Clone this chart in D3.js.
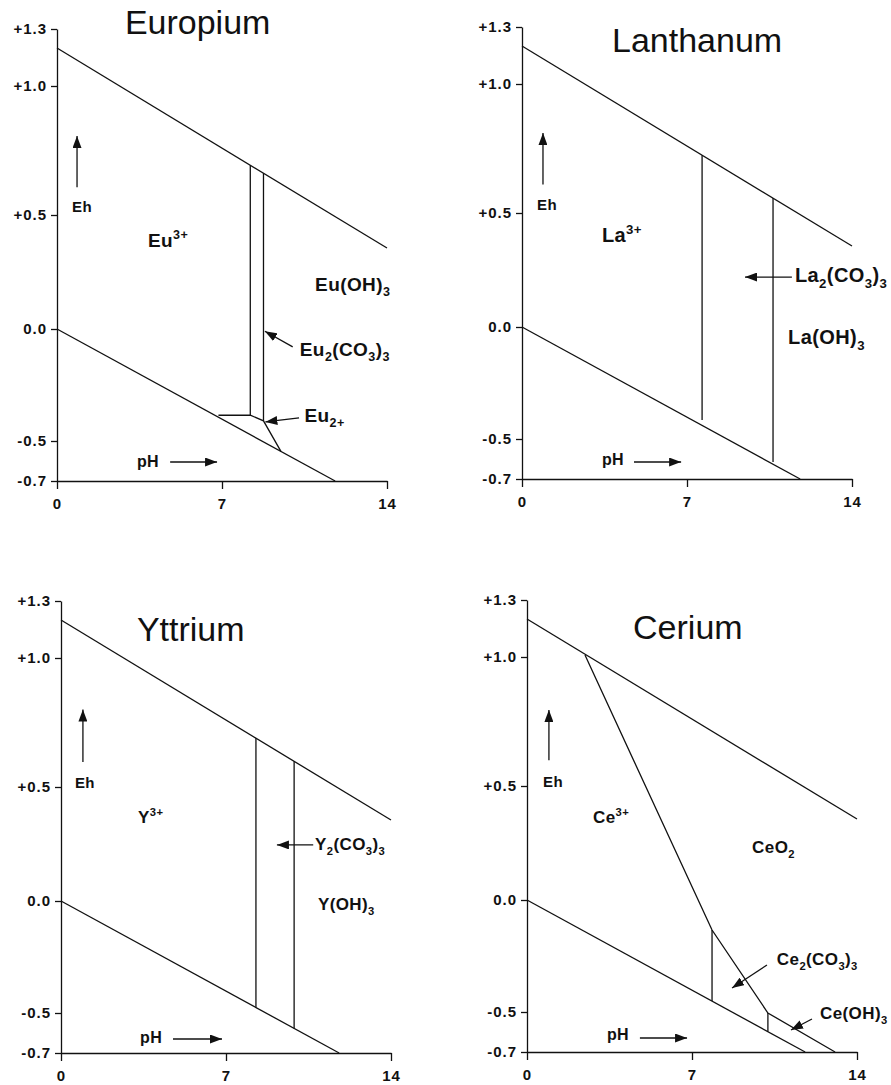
<!DOCTYPE html>
<html>
<head>
<meta charset="utf-8">
<script src="https://cdn.jsdelivr.net/npm/d3@7"></script>
<style>
  body { margin: 0; background: #fff; }
  svg { display: block; }
  text { font-family: "Liberation Sans", Arial, Helvetica, sans-serif; }
</style>
</head>
<body>
<svg></svg>
<script>
// axis ticks
const pHTicks = [0, 7, 14]
const ehTicks = [1.3, 1.0, 0.5, 0.0, -0.5, -0.7]
const ehTickLabels = ['+1.3', '+1.0', '+0.5', '0.0', '-0.5', '-0.7']

// water stability limits (pH, Eh)
const upperWater = [[0, 1.2], [14, 0.355]]
const lowerWater = [[0, 0.0], [11.8, -0.7]]

// phase boundaries (pH, Eh)
const europiumLines = [
  [[8.2, 0.693], [8.2, -0.385]],
  [[8.76, 0.662], [8.76, -0.41]],
  [[6.85, -0.385], [8.2, -0.385], [8.76, -0.41], [9.5, -0.552]]
]
const lanthanumLines = [
  [[7.64, 0.724], [7.64, -0.415]],
  [[10.65, 0.558], [10.65, -0.615]]
]
const yttriumLines = [
  [[8.27, 0.69], [8.27, -0.475]],
  [[9.89, 0.6], [9.89, -0.577]]
]
const ceriumLines = [
  [[2.46, 1.01], [7.85, -0.134], [10.22, -0.505], [13.07, -0.7]],
  [[7.85, -0.134], [7.85, -0.451]],
  [[10.22, -0.505], [10.22, -0.598]]
]

// species labels: anchor (pH, Eh) and text parts
const europiumLabels = [
  { at: [3.86, 0.36], parts: [['Eu'], ['3+', 'sup']] },
  { at: [10.95, 0.167], parts: [['Eu(OH)'], ['3', 'sub']] },
  { at: [10.3, -0.12], parts: [['Eu'], ['2', 'sub'], ['(CO'], ['3', 'sub'], [')'], ['3', 'sub']] },
  { at: [10.5, -0.415], parts: [['Eu'], ['2+', 'sub']] }
]
const lanthanumLabels = [
  { at: [3.39, 0.373], parts: [['La'], ['3+', 'sup']] },
  { at: [11.58, 0.197], parts: [['La'], ['2', 'sub'], ['(CO'], ['3', 'sub'], [')'], ['3', 'sub']] },
  { at: [11.29, -0.076], parts: [['La(OH)'], ['3', 'sub']] }
]
const yttriumLabels = [
  { at: [3.27, 0.342], parts: [['Y'], ['3+', 'sup']] },
  { at: [10.78, 0.224], parts: [['Y'], ['2', 'sub'], ['(CO'], ['3', 'sub'], [')'], ['3', 'sub']] },
  { at: [10.9, -0.04], parts: [['Y(OH)'], ['3', 'sub']] }
]
const ceriumLabels = [
  { at: [2.8, 0.338], parts: [['Ce'], ['3+', 'sup']] },
  { at: [9.55, 0.206], parts: [['CeO'], ['2', 'sub']] },
  { at: [10.6, -0.29], parts: [['Ce'], ['2', 'sub'], ['(CO'], ['3', 'sub'], [')'], ['3', 'sub']] },
  { at: [12.43, -0.535], parts: [['Ce(OH)'], ['3', 'sub']] }
]

// pointer arrows (from, to)
const europiumArrows = [[[10.0, -0.08], [8.82, -0.01]], [[10.27, -0.397], [8.84, -0.415]]]
const lanthanumArrows = [[[11.45, 0.219], [9.46, 0.219]]]
const yttriumArrows = [[[10.7, 0.246], [9.16, 0.246]]]
const ceriumArrows = [[[10.18, -0.29], [8.7, -0.393]], [[12.09, -0.535], [11.2, -0.59]]]

const width = 891
const height = 1085

const svg = d3.select('svg')
  .attr('width', width)
  .attr('height', height)
  .attr('viewBox', [0, 0, width, height])

svg.append('rect').attr('width', width).attr('height', height).attr('fill', '#fff')

svg.append('defs').append('marker')
  .attr('id', 'head')
  .attr('viewBox', '0 0 12 9')
  .attr('refX', 12)
  .attr('refY', 4.5)
  .attr('markerUnits', 'userSpaceOnUse')
  .attr('markerWidth', 12)
  .attr('markerHeight', 9)
  .attr('orient', 'auto')
  .append('path')
  .attr('d', 'M0,0L12,4.5L0,9Z')
  .attr('fill', '#111')

// the printed Eh axis is not evenly spaced, so the scale is piecewise
const x = d3.scaleLinear().domain([0, 14]).range([0, 330])
const y = d3.scaleLinear().domain(ehTicks).range([0, 57, 186, 300, 412, 452])

const line = d3.line().x(d => x(d[0])).y(d => y(d[1]))

const panels = [
  { title: 'Europium', tx: 57, ty: 29, titleAt: [2.88, 1.274], lines: europiumLines, labels: europiumLabels, arrows: europiumArrows, size: 19,
    eh: [0.64, 0.512], ehArrow: [[0.85, 0.608], [0.85, 0.806]], ph: [3.39, -0.63], phArrow: [[4.8, -0.605], [6.79, -0.605]] },
  { title: 'Lanthanum', tx: 522, ty: 27, titleAt: [3.82, 1.168], lines: lanthanumLines, labels: lanthanumLabels, arrows: lanthanumArrows, size: 20,
    eh: [0.64, 0.512], ehArrow: [[0.89, 0.61], [0.89, 0.81]], ph: [3.39, -0.63], phArrow: [[4.75, -0.615], [6.75, -0.615]] },
  { title: 'Yttrium', tx: 61, ty: 601, titleAt: [3.22, 1.089], lines: yttriumLines, labels: yttriumLabels, arrows: yttriumArrows, size: 17,
    eh: [0.59, 0.496], ehArrow: [[0.93, 0.597], [0.93, 0.8]], ph: [3.35, -0.65], phArrow: [[4.75, -0.63], [6.83, -0.63]] },
  { title: 'Cerium', tx: 527, ty: 600, titleAt: [4.5, 1.095], lines: ceriumLines, labels: ceriumLabels, arrows: ceriumArrows, size: 17,
    eh: [0.68, 0.496], ehArrow: [[0.93, 0.6], [0.93, 0.795]], ph: [3.39, -0.64], phArrow: [[4.79, -0.63], [6.79, -0.63]] }
]

// text with sub/superscripts
function addLabel(g, lab, size) {
  const t = g.append('text')
    .attr('x', x(lab.at[0]))
    .attr('y', y(lab.at[1]))
    .attr('font-size', size)
    .attr('font-weight', 'bold')
    .attr('letter-spacing', 0.4)
    .attr('fill', '#111')
  let shift = 0
  lab.parts.forEach(([s, kind]) => {
    const target = kind === 'sub' ? size * 0.28 : kind === 'sup' ? -size * 0.42 : 0
    t.append('tspan')
      .attr('dy', target - shift)
      .attr('font-size', kind ? size * 0.66 : size)
      .text(s)
    shift = target
  })
}

function drawArrow(g, pts) {
  g.append('path')
    .attr('d', line(pts))
    .attr('fill', 'none')
    .attr('stroke', '#111')
    .attr('stroke-width', 1.3)
    .attr('marker-end', 'url(#head)')
}

function styleAxis(a) {
  a.attr('font-size', 15)
    .attr('font-weight', 'bold')
    .attr('font-family', null)
  a.selectAll('text').attr('letter-spacing', 1).attr('fill', '#111')
  a.selectAll('line, path').attr('stroke', '#111').attr('stroke-width', 1.3)
}

function drawPanel(p) {
  const g = svg.append('g').attr('transform', 'translate(' + p.tx + ',' + p.ty + ')')

  // Eh axis
  g.append('g')
    .call(d3.axisLeft(y).tickValues(ehTicks).tickFormat((d, i) => ehTickLabels[i]).tickSize(6).tickPadding(4).tickSizeOuter(0))
    .call(styleAxis)

  // pH axis
  g.append('g')
    .attr('transform', 'translate(0,' + y(-0.7) + ')')
    .call(d3.axisBottom(x).tickValues(pHTicks).tickSize(8).tickPadding(9).tickSizeOuter(0))
    .call(styleAxis)

  // water lines and phase boundaries
  const bounds = [upperWater, lowerWater].concat(p.lines)
  g.selectAll('path.bound')
    .data(bounds)
    .join('path')
    .attr('class', 'bound')
    .attr('d', line)
    .attr('fill', 'none')
    .attr('stroke', '#111')
    .attr('stroke-width', 1.3)

  p.labels.forEach(lab => addLabel(g, lab, p.size))
  p.arrows.forEach(a => drawArrow(g, a))

  // Eh / pH direction markers
  addLabel(g, { at: p.eh, parts: [['Eh']] }, 15)
  drawArrow(g, p.ehArrow)
  addLabel(g, { at: p.ph, parts: [['pH']] }, 16)
  drawArrow(g, p.phArrow)

  g.append('text')
    .attr('x', x(p.titleAt[0]))
    .attr('y', y(p.titleAt[1]))
    .attr('font-size', 34)
    .attr('fill', '#111')
    .text(p.title)
}

panels.forEach(drawPanel)
</script>
</body>
</html>
